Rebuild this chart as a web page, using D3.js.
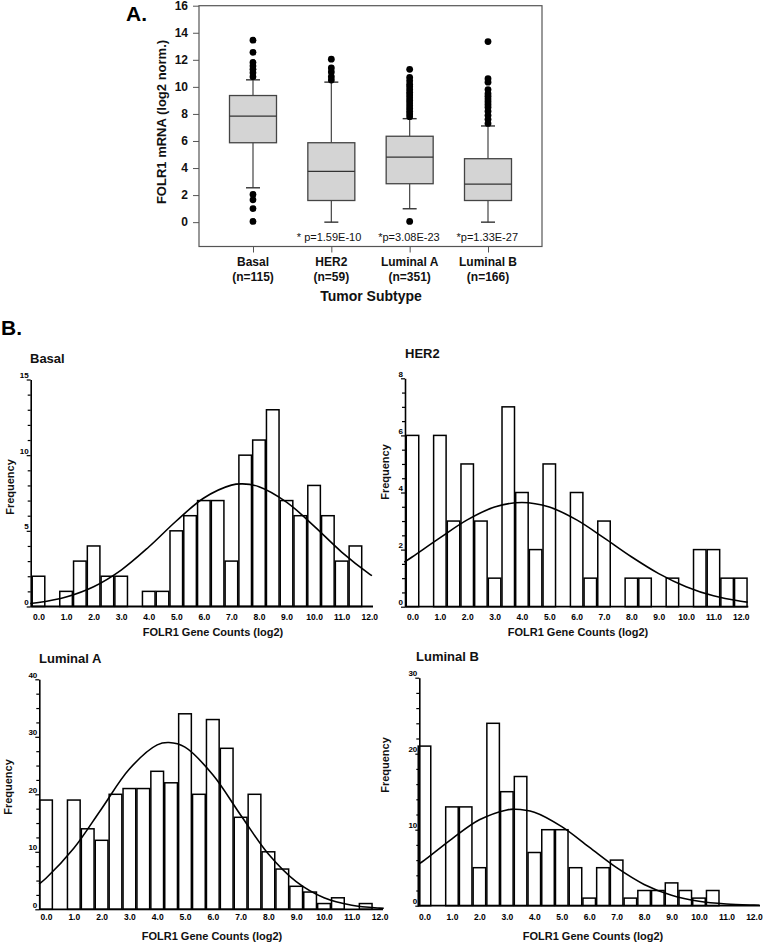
<!DOCTYPE html>
<html><head><meta charset="utf-8">
<script src="https://cdn.jsdelivr.net/npm/d3@7"></script>
<style>
html,body{margin:0;padding:0;background:#fff;}
svg{display:block;font-family:"Liberation Sans",Arial,sans-serif;}
</style></head>
<body>
<svg id="chart" width="764" height="943"></svg>
<script>
// ---------- Panel A data ----------
const categories = ["Basal", "HER2", "Luminal A", "Luminal B"];
const nLabels = ["(n=115)", "(n=59)", "(n=351)", "(n=166)"];
const q1Values = [5.87, 1.6, 2.84, 1.6];
const medianValues = [7.83, 3.75, 4.81, 2.81];
const q3Values = [9.36, 5.87, 6.35, 4.69];
const whiskerLow = [2.54, 0, 0.99, 0];
const whiskerHigh = [10.52, 10.35, 7.65, 7.11];
const outliersBasal = [13.45, 12.55, 11.8, 11.55, 11.3, 11.05, 10.75, 2.05, 1.65, 1.0, 0.05];
const outliersHER2 = [12.05, 11.4, 11.1, 10.75, 10.5];
const outliersLumA = [11.3, 10.7, 10.45, 10.2, 10.0, 9.8, 9.6, 9.4, 9.2, 9.0, 8.8, 8.6, 8.4, 8.2, 8.0, 7.8, 0.05];
const outliersLumB = [13.35, 10.6, 10.35, 9.8, 9.5, 9.3, 9.1, 8.9, 8.7, 8.5, 8.2, 7.9, 7.6, 7.3];
const pLabels = ["", "* p=1.59E-10", "*p=3.08E-23", "*p=1.33E-27"];
const boxYTicks = [0, 2, 4, 6, 8, 10, 12, 14, 16];

// ---------- Panel B data ----------
const binCenters = [0, 0.5, 1, 1.5, 2, 2.5, 3, 3.5, 4, 4.5, 5, 5.5, 6, 6.5, 7, 7.5, 8, 8.5, 9, 9.5, 10, 10.5, 11, 11.5, 12];
const basalCounts = [2, 0, 1, 3, 4, 2, 2, 0, 1, 1, 5, 6, 7, 7, 3, 10, 11, 13, 7, 6, 8, 6, 3, 4, 0];
const her2Counts  = [6, 0, 6, 3, 5, 3, 1, 7, 4, 2, 5, 0, 4, 1, 3, 0, 1, 1, 0, 1, 0, 2, 2, 1, 1];
const lumACounts  = [19, 0, 19, 14, 12, 20, 21, 21, 24, 22, 34, 20, 33, 28, 16, 20, 10, 7, 4, 3, 1, 2, 0, 1, 0];
const lumBCounts  = [21, 0, 13, 13, 5, 24, 15, 17, 7, 10, 10, 5, 1, 5, 6, 1, 2, 2, 3, 2, 1, 2, 0, 0, 0];
const xTickValues = [0, 1, 2, 3, 4, 5, 6, 7, 8, 9, 10, 11, 12];
// fitted normal curves as [x, frequency]
const basalCurve = [[-0.3,0.20],[0,0.26],[1,0.63],[2,1.31],[3,2.41],[4,3.93],[5,5.65],[6,7.17],[7,8.02],[7.4,8.1],[8,7.92],[9,6.90],[10,5.31],[11,3.60],[12,2.16],[12.1,2.04]];
const her2Curve = [[-0.3,1.56],[0,1.75],[1,2.41],[2,3.04],[3,3.49],[4,3.65],[5,3.49],[6,3.04],[7,2.41],[8,1.75],[9,1.16],[10,0.70],[11,0.38],[12,0.19],[12.25,0.16]];
const lumACurve = [[-0.25,4.4],[0,5.4],[1,10.6],[2,17.5],[3,24.4],[4,28.6],[4.42,29.0],[5,28.2],[6,23.4],[7,16.4],[8,9.6],[9,4.8],[10,2.0],[11,0.7],[12,0.21],[12.15,0.18]];
const lumBCurve = [[-0.2,5.5],[0,6.0],[1,8.8],[2,11.3],[3,12.6],[3.3,12.7],[4,12.3],[5,10.4],[6,7.7],[7,5.0],[8,2.8],[9,1.37],[10,0.58],[11,0.22],[12,0.07],[12.2,0.05]];
const basalYTicks = [0,1,2,3,4,5,6,7,8,9,10,11,12,13,14,15];
const basalYLabels = [0,5,10,15];
const her2YTicks = [0,0.5,1,1.5,2,2.5,3,3.5,4,4.5,5,5.5,6,6.5,7,7.5,8];
const her2YLabels = [0,2,4,6,8];
const lumAYTicks = [0,2.5,5,7.5,10,12.5,15,17.5,20,22.5,25,27.5,30,32.5,35,37.5,40];
const lumAYLabels = [0,10,20,30,40];
const lumBYTicks = [0,2,4,6,8,10,12,14,16,18,20,22,24,26,28,30];
const lumBYLabels = [0,10,20,30];

const svg = d3.select("#chart");
svg.append("rect").attr("width", 764).attr("height", 943).attr("fill", "#fff");

// ================= Panel A: box plot =================
const frame = {x0: 199, x1: 542, y0: 5.7, y1: 246.5};
const yBox = d3.scaleLinear().domain([-1.8, 16]).range([frame.y1, frame.y0]);
const xBox = d3.scalePoint().domain(categories).range([253, 488]);
const gA = svg.append("g");

gA.append("text").attr("x", 126).attr("y", 21).attr("font-size", 21).attr("font-weight", "bold").text("A.");

gA.append("rect").attr("x", frame.x0).attr("y", frame.y0)
  .attr("width", frame.x1 - frame.x0).attr("height", frame.y1 - frame.y0)
  .attr("fill", "none").attr("stroke", "#555").attr("stroke-width", 1.2);

const yAxisA = gA.append("g").attr("transform", `translate(${frame.x0},0)`)
  .call(d3.axisLeft(yBox).tickValues(boxYTicks).tickSize(6).tickPadding(5));
yAxisA.select(".domain").remove();
yAxisA.selectAll("line").attr("stroke", "#555");
yAxisA.selectAll("text").attr("font-size", 12).attr("font-weight", "bold")
  .attr("font-family", "Liberation Sans, Arial, sans-serif").attr("fill", "#111");

const xAxisA = gA.append("g").attr("transform", `translate(0,${frame.y1})`)
  .call(d3.axisBottom(xBox).tickSize(6).tickFormat(""));
xAxisA.select(".domain").remove();
xAxisA.selectAll("line").attr("stroke", "#555");

gA.append("text").attr("transform", "translate(166,122) rotate(-90)")
  .attr("text-anchor", "middle").attr("font-size", 13).attr("font-weight", "bold").attr("fill", "#111")
  .text("FOLR1 mRNA (log2 norm.)");

const boxW = 47, capW = 14;
const outlierSets = [outliersBasal, outliersHER2, outliersLumA, outliersLumB];
categories.forEach((c, i) => {
  const cx = xBox(c);
  const g = gA.append("g");
  g.append("line").attr("x1", cx).attr("x2", cx).attr("y1", yBox(q3Values[i])).attr("y2", yBox(whiskerHigh[i]))
    .attr("stroke", "#444").attr("stroke-width", 1.2);
  g.append("line").attr("x1", cx).attr("x2", cx).attr("y1", yBox(q1Values[i])).attr("y2", yBox(whiskerLow[i]))
    .attr("stroke", "#444").attr("stroke-width", 1.2);
  g.append("line").attr("x1", cx - capW/2).attr("x2", cx + capW/2).attr("y1", yBox(whiskerHigh[i])).attr("y2", yBox(whiskerHigh[i]))
    .attr("stroke", "#333").attr("stroke-width", 1.4);
  g.append("line").attr("x1", cx - capW/2).attr("x2", cx + capW/2).attr("y1", yBox(whiskerLow[i])).attr("y2", yBox(whiskerLow[i]))
    .attr("stroke", "#333").attr("stroke-width", 1.4);
  g.append("rect").attr("x", cx - boxW/2).attr("y", yBox(q3Values[i]))
    .attr("width", boxW).attr("height", yBox(q1Values[i]) - yBox(q3Values[i]))
    .attr("fill", "#d4d4d4").attr("stroke", "#444").attr("stroke-width", 1.3);
  g.append("line").attr("x1", cx - boxW/2).attr("x2", cx + boxW/2).attr("y1", yBox(medianValues[i])).attr("y2", yBox(medianValues[i]))
    .attr("stroke", "#333").attr("stroke-width", 1.3);
  g.selectAll("circle").data(outlierSets[i]).enter().append("circle")
    .attr("cx", cx).attr("cy", d => yBox(d)).attr("r", 3.4).attr("fill", "#000");
  if (pLabels[i]) {
    gA.append("text").attr("x", cx + 30).attr("y", 241).attr("text-anchor", "end")
      .attr("font-size", 11).attr("fill", "#111").text(pLabels[i]);
  }
  gA.append("text").attr("x", cx).attr("y", 266).attr("text-anchor", "middle")
    .attr("font-size", 12).attr("font-weight", "bold").attr("fill", "#111").text(c);
  gA.append("text").attr("x", cx).attr("y", 281).attr("text-anchor", "middle")
    .attr("font-size", 12).attr("font-weight", "bold").attr("fill", "#111").text(nLabels[i]);
});
gA.append("text").attr("x", 371).attr("y", 301).attr("text-anchor", "middle")
  .attr("font-size", 14).attr("font-weight", "bold").attr("fill", "#111").text("Tumor Subtype");

// ================= Panel B: histograms =================
svg.append("text").attr("x", 1).attr("y", 335).attr("font-size", 21).attr("font-weight", "bold").text("B.");

const panels = [
  {title: "Basal", counts: basalCounts, curve: basalCurve, yMax: 15, yTicks: basalYTicks, yLabels: basalYLabels,
   x0: 38.5, x12: 369.2, axL: 30.7, axR: 373, yZero: 606.5, yTop: 379.5,
   titleX: 30, titleY: 363, freqX: 14, freqY: 487, xLabY: 620, xTitleX: 213, xTitleY: 636},
  {title: "HER2", counts: her2Counts, curve: her2Curve, yMax: 8, yTicks: her2YTicks, yLabels: her2YLabels,
   x0: 412.5, x12: 740.8, axL: 405, axR: 748.3, yZero: 606.7, yTop: 378.3,
   titleX: 405, titleY: 358, freqX: 389, freqY: 472, xLabY: 620, xTitleX: 578, xTitleY: 636},
  {title: "Luminal A", counts: lumACounts, curve: lumACurve, yMax: 40, yTicks: lumAYTicks, yLabels: lumAYLabels,
   x0: 46, x12: 379.6, axL: 39.3, axR: 383, yZero: 909.3, yTop: 679.3,
   titleX: 39, titleY: 663, freqX: 12, freqY: 787, xLabY: 920, xTitleX: 212, xTitleY: 940},
  {title: "Luminal B", counts: lumBCounts, curve: lumBCurve, yMax: 30, yTicks: lumBYTicks, yLabels: lumBYLabels,
   x0: 424.5, x12: 753.9, axL: 419.3, axR: 760, yZero: 905.7, yTop: 677.7,
   titleX: 416, titleY: 661, freqX: 389, freqY: 765, xLabY: 920, xTitleX: 593, xTitleY: 940}
];

panels.forEach(p => {
  const g = svg.append("g");
  const x = d3.scaleLinear().domain([0, 12]).range([p.x0, p.x12]);
  const y = d3.scaleLinear().domain([0, p.yMax]).range([p.yZero, p.yTop]);

  const bars = binCenters.map((c, i) => ({c, v: p.counts[i]})).filter(d => d.v > 0);
  g.selectAll("rect.bar").data(bars).enter().append("rect").attr("class", "bar")
    .attr("x", d => x(d.c - 0.25) + 0.6)
    .attr("y", d => y(d.v))
    .attr("width", d => x(d.c + 0.25) - x(d.c - 0.25) - 1.2)
    .attr("height", d => y(0) - y(d.v))
    .attr("fill", "#fff").attr("stroke", "#000").attr("stroke-width", 1.5);

  const line = d3.line().x(d => x(d[0])).y(d => y(d[1])).curve(d3.curveCatmullRom.alpha(0.5));
  g.append("path").attr("d", line(p.curve)).attr("fill", "none").attr("stroke", "#000").attr("stroke-width", 1.6);

  const ya = g.append("g").attr("transform", `translate(${p.axL},0)`)
    .call(d3.axisLeft(y).tickValues(p.yTicks).tickSizeOuter(0)
      .tickFormat(d => p.yLabels.includes(d) ? d : ""));
  ya.select(".domain").attr("stroke", "#000").attr("stroke-width", 1.6);
  ya.selectAll(".tick line").attr("stroke", "#000").attr("stroke-width", 1.2)
    .attr("x2", d => p.yLabels.includes(d) ? -4 : -3);
  ya.selectAll(".tick text").attr("x", -2).attr("dy", "-0.25em")
    .attr("font-size", 8).attr("font-weight", "bold").attr("fill", "#000")
    .attr("font-family", "Liberation Sans, Arial, sans-serif");

  const xa = g.append("g").attr("transform", `translate(0,${p.yZero})`)
    .call(d3.axisBottom(x).tickValues(xTickValues).tickSize(0).tickSizeOuter(0)
      .tickFormat(d3.format(".1f")));
  xa.select(".domain").remove();
  xa.selectAll(".tick text").attr("y", p.xLabY - p.yZero).attr("dy", 0)
    .attr("font-size", 8.5).attr("font-weight", "bold").attr("fill", "#000")
    .attr("font-family", "Liberation Sans, Arial, sans-serif");
  g.append("line").attr("x1", p.axL).attr("x2", p.axR).attr("y1", p.yZero).attr("y2", p.yZero)
    .attr("stroke", "#000").attr("stroke-width", 1.8);

  g.append("text").attr("x", p.titleX).attr("y", p.titleY).attr("font-size", 13).attr("font-weight", "bold")
    .attr("fill", "#111").text(p.title);
  g.append("text").attr("transform", `translate(${p.freqX},${p.freqY}) rotate(-90)`).attr("text-anchor", "middle")
    .attr("font-size", 11).attr("font-weight", "bold").attr("fill", "#111").text("Frequency");
  g.append("text").attr("x", p.xTitleX).attr("y", p.xTitleY).attr("text-anchor", "middle")
    .attr("font-size", 11).attr("font-weight", "bold").attr("fill", "#111").text("FOLR1 Gene Counts (log2)");
});
</script>
</body></html>
